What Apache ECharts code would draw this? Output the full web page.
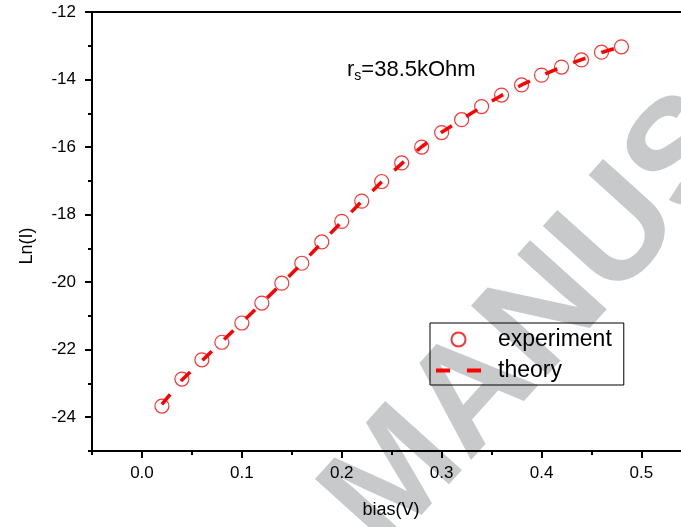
<!DOCTYPE html>
<html>
<head>
<meta charset="utf-8">
<script src="https://cdn.jsdelivr.net/npm/echarts@6/dist/echarts.min.js"></script>
<style>
html, body { margin: 0; padding: 0; background: #fff; }
#chart { width: 681px; height: 527px; }
</style>
</head>
<body>
<div id="chart"></div>
<script>
var bias = [0.02, 0.04, 0.06, 0.08, 0.10, 0.12, 0.14, 0.16, 0.18, 0.20, 0.22, 0.24,
            0.26, 0.28, 0.30, 0.32, 0.34, 0.36, 0.38, 0.40, 0.42, 0.44, 0.46, 0.48];
var experiment = [-23.67, -22.87, -22.30, -21.78, -21.21, -20.62, -20.03, -19.44, -18.81, -18.20, -17.60, -17.02,
                  -16.47, -16.00, -15.57, -15.19, -14.80, -14.46, -14.16, -13.87, -13.63, -13.42, -13.19, -13.03];
var theory = [-23.62, -22.90, -22.33, -21.76, -21.19, -20.62, -20.04, -19.45, -18.83, -18.21, -17.61, -17.03,
              -16.49, -15.99, -15.56, -15.18, -14.81, -14.47, -14.16, -13.88, -13.63, -13.41, -13.20, -13.02];
var xLabels = [0.0, 0.1, 0.2, 0.3, 0.4, 0.5];
var xMinor = [-0.05, 0.05, 0.15, 0.25, 0.35, 0.45];
var yLabels = [-24, -22, -20, -18, -16, -14, -12];
var yMinor = [-25, -23, -21, -19, -17, -15, -13];

function pares(xs, ys) {
    var out = [];
    for (var i = 0; i < xs.length; i++) out.push([xs[i], ys[i]]);
    return out;
}

var fuente = 'Liberation Sans, Arial, sans-serif';
var xMin = -0.05, xMax = 0.5396;
var myChart = echarts.init(document.getElementById('chart'));

var option = {
    animation: false,
    grid: { left: 92, top: 12, right: 0, height: 439 },
    graphic: [
        {
            type: 'text', x: 410, y: 578, rotation: 48 * Math.PI / 180, z: -10,
            style: { text: 'MANUSCRIPT', fontSize: 150, fontWeight: 'bold', fontFamily: fuente,
                     fill: '#c8c9ca', align: 'left', verticalAlign: 'bottom' }
        },
        {
            type: 'text', x: 27, y: 246, rotation: Math.PI / 2,
            style: { text: 'Ln(I)', fontSize: 18, fontFamily: fuente, fill: '#000',
                     align: 'center', verticalAlign: 'middle' }
        },
        {
            type: 'text', x: 347, y: 70,
            style: {
                text: '{r|r}{s|s}{r|=38.5kOhm}',
                rich: {
                    r: { fontSize: 22, fontFamily: fuente, fill: '#000' },
                    s: { fontSize: 14, fontFamily: fuente, fill: '#000', padding: [13, 0, 0, 0] }
                },
                align: 'left', verticalAlign: 'middle'
            }
        }
    ],
    legend: {
        orient: 'vertical',
        left: 430, top: 323,
        padding: [5, 12, 3, 6],
        itemGap: 8,
        itemWidth: 45,
        itemHeight: 14,
        borderColor: '#000',
        borderWidth: 1,
        textStyle: { fontSize: 23, fontFamily: fuente, color: '#000', padding: [0, 0, 0, 12] },
        data: [
            { name: 'experiment' },
            { name: 'theory', icon: 'path://M0,0h14v4h-14z M31,0h14v4h-14z' }
        ]
    },
    xAxis: [
        {
            type: 'value', min: xMin, max: xMax,
            name: 'bias(V)', nameLocation: 'middle', nameGap: 50,
            nameTextStyle: { fontSize: 18, fontFamily: fuente, color: '#000', padding: [0, 0, 0, 9] },
            axisLine: { show: true, onZero: false, lineStyle: { color: '#000', width: 2 } },
            axisTick: { show: true, length: 7, customValues: xLabels, lineStyle: { color: '#000', width: 2 } },
            axisLabel: { customValues: xLabels, margin: 14, fontSize: 17, fontFamily: fuente, color: '#000',
                         formatter: function (v) { return v.toFixed(1); } },
            splitLine: { show: false }
        },
        {
            type: 'value', min: xMin, max: xMax, position: 'bottom',
            axisLine: { show: false, onZero: false },
            axisTick: { show: true, length: 4, customValues: xMinor, lineStyle: { color: '#000', width: 2 } },
            axisLabel: { show: false },
            splitLine: { show: false }
        },
        {
            type: 'value', min: xMin, max: xMax, position: 'top',
            axisLine: { show: true, onZero: false, lineStyle: { color: '#000', width: 2 } },
            axisTick: { show: false },
            axisLabel: { show: false },
            splitLine: { show: false }
        }
    ],
    yAxis: [
        {
            type: 'value', min: -25, max: -12,
            axisLine: { show: true, onZero: false, lineStyle: { color: '#000', width: 2 } },
            axisTick: { show: true, length: 7, customValues: yLabels, lineStyle: { color: '#000', width: 2 } },
            axisLabel: { customValues: yLabels, margin: 16, fontSize: 17, fontFamily: fuente, color: '#000' },
            splitLine: { show: false }
        },
        {
            type: 'value', min: -25, max: -12, position: 'left',
            axisLine: { show: false, onZero: false },
            axisTick: { show: true, length: 4, customValues: yMinor, lineStyle: { color: '#000', width: 2 } },
            axisLabel: { show: false },
            splitLine: { show: false }
        }
    ],
    series: [
        {
            name: 'theory',
            type: 'line',
            data: pares(bias, theory),
            showSymbol: false,
            symbol: 'none',
            lineStyle: { color: '#ff0000', width: 3.5, type: [13, 17] },
            itemStyle: { color: '#ff0000' },
            z: 2
        },
        {
            name: 'experiment',
            type: 'scatter',
            data: pares(bias, experiment),
            symbol: 'circle',
            symbolSize: 14,
            itemStyle: { color: 'rgba(0,0,0,0)', borderColor: '#ff0000', borderWidth: 1.2 },
            z: 3
        }
    ]
};
myChart.setOption(option);
</script>
</body>
</html>
